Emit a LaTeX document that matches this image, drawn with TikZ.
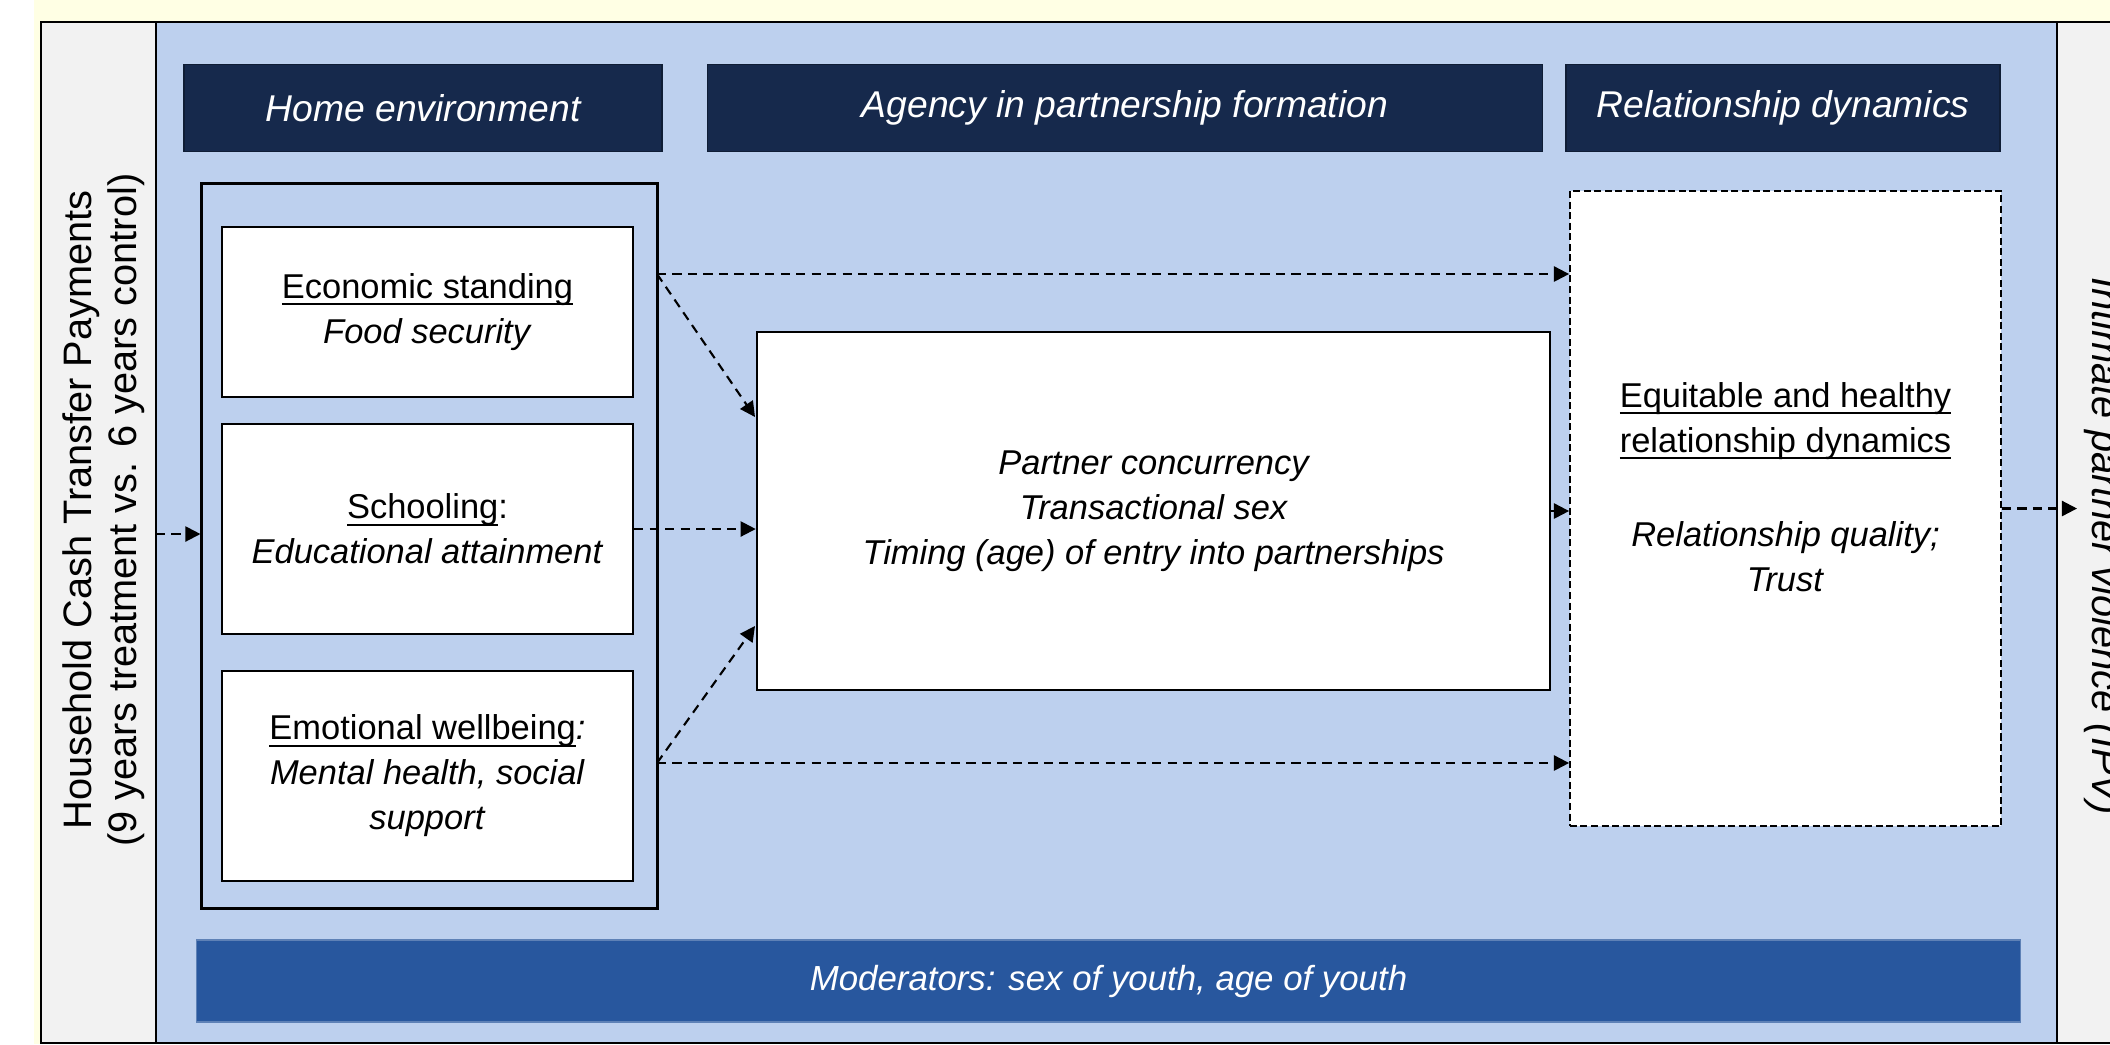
\documentclass[tikz,border=0pt]{standalone}
\usepackage{fontspec}
\setmainfont{Liberation Sans}
\usetikzlibrary{arrows.meta}

\definecolor{creambg}{HTML}{FFFFE4}
\definecolor{sidegray}{HTML}{F2F2F2}
\definecolor{paneblue}{HTML}{BDD0EE}
\definecolor{headnavy}{HTML}{16294C}
\definecolor{barblue}{HTML}{28579E}

\newsavebox{\ulbox}
\newcommand{\ulin}[1]{\sbox{\ulbox}{#1}\rlap{\rule[-1.9pt]{\wd\ulbox}{0.55pt}}\usebox{\ulbox}}

\begin{document}
\begin{tikzpicture}[x=0.01cm, y=-0.01cm,
    headbox/.style={draw=headnavy!70!black, line width=0.4pt, fill=headnavy, text=white, inner sep=0pt, minimum height=0.87cm, font=\fontsize{10.6}{13}\selectfont\itshape},
    whitebox/.style={draw, line width=0.6pt, fill=white, inner sep=0pt, align=center, font=\fontsize{9.8}{12.8}\selectfont},
    flow/.style={dash pattern=on 2.6pt off 1.8pt, line width=0.6pt, -{Triangle[length=4.3pt,width=4.3pt]}}]

  % page
  \useasboundingbox (0,0) rectangle (2110,1044);
  \clip (0,0) rectangle (2110,1044);
  \fill [creambg] (34,0) rectangle (2110,1044);
  \fill [white] (0,0) rectangle (34,1044);

  % side panels and main pane
  \draw [fill=sidegray, line width=0.5pt] (41,22) rectangle (156,1043);
  \draw [fill=paneblue, line width=0.5pt] (156,22) rectangle (2057,1043);
  \draw [fill=sidegray, line width=0.5pt] (2057,22) rectangle (2130,1043);

  % column heads
  \node [headbox, minimum width=4.78cm] (hhome) at (423,108) {Home environment};
  \node [headbox, minimum width=8.34cm] (hagency) at (1125,108) {Agency in partnership formation};
  \node [headbox, minimum width=4.34cm] (hrel) at (1783,108) {Relationship dynamics};

  % home environment
  \node [draw, line width=0.8pt, minimum width=4.55cm, minimum height=7.24cm] (homebox) at (429.5,546) {};
  \node [whitebox, minimum width=4.11cm, minimum height=1.70cm] (econ) at (427.5,312) {\ulin{Economic standing}\\\textit{Food security}};
  \node [whitebox, minimum width=4.11cm, minimum height=2.10cm] (school) at (427.5,529) {\ulin{Schooling}:\\\textit{Educational attainment}};
  \node [whitebox, minimum width=4.11cm, minimum height=2.10cm] (emo) at (427.5,776) {\ulin{Emotional wellbeing}\textit{:}\\\textit{Mental health, social}\\\textit{support}};

  % partnership formation
  \node [whitebox, minimum width=7.93cm, minimum height=3.58cm, font=\fontsize{9.8}{12.8}\selectfont\itshape] (agency) at (1153.5,511) {Partner concurrency\\Transactional sex\\Timing (age) of entry into partnerships};

  % relationship dynamics
  \node [draw, fill=white, line width=0.45pt, dash pattern=on 2pt off 1pt, minimum width=4.31cm, minimum height=6.35cm] (reldyn) at (1785.5,508.5) {};
  \node [align=center, inner sep=0pt, font=\fontsize{9.8}{12.8}\selectfont] (reltext) at (1785.5,487) {\ulin{Equitable and healthy}\\\ulin{relationship dynamics}\\[14pt]\textit{Relationship quality;}\\\textit{Trust}};

  % moderators
  \node [fill=barblue, draw=barblue!75!white, line width=0.4pt, minimum width=18.23cm, minimum height=0.82cm, text=white, font=\fontsize{9.9}{12}\selectfont\itshape] (moder) at (1108.5,981) {Moderators: sex of youth, age of youth};

  % side labels
  \node [rotate=90, align=center, inner sep=0pt, font=\fontsize{11.3}{12.8}\selectfont] (cash) at (104,510) {Household Cash Transfer Payments\\(9 years treatment vs. 6 years control)};
  \node [rotate=-90, anchor=base, inner sep=0pt, font=\fontsize{11.3}{12.8}\selectfont\itshape] (ipv) at (2092,546) {Intimate partner violence (IPV)};

  % arrows
  \coordinate (cashout) at (156,534);
  \coordinate (econout) at (657,274);
  \coordinate (emoout) at (657,763);
  \coordinate (agin1) at (755,417);
  \coordinate (agin2) at (755,626);
  \coordinate (ipvin) at (2077,0);

  \draw [flow] (cashout) -- (cashout -| homebox.west);
  \draw [flow] (econout) -- (econout -| reldyn.west);
  \draw [flow] (econout) -- (agin1);
  \draw [flow] (school.east) -- (school.east -| agency.west);
  \draw [flow] (emoout) -- (agin2);
  \draw [flow] (emoout) -- (emoout -| reldyn.west);
  \draw [flow] (agency.east) -- (agency.east -| reldyn.west);
  \draw [flow] (reldyn.east) -- (reldyn.east -| ipvin);
\end{tikzpicture}
\end{document}
